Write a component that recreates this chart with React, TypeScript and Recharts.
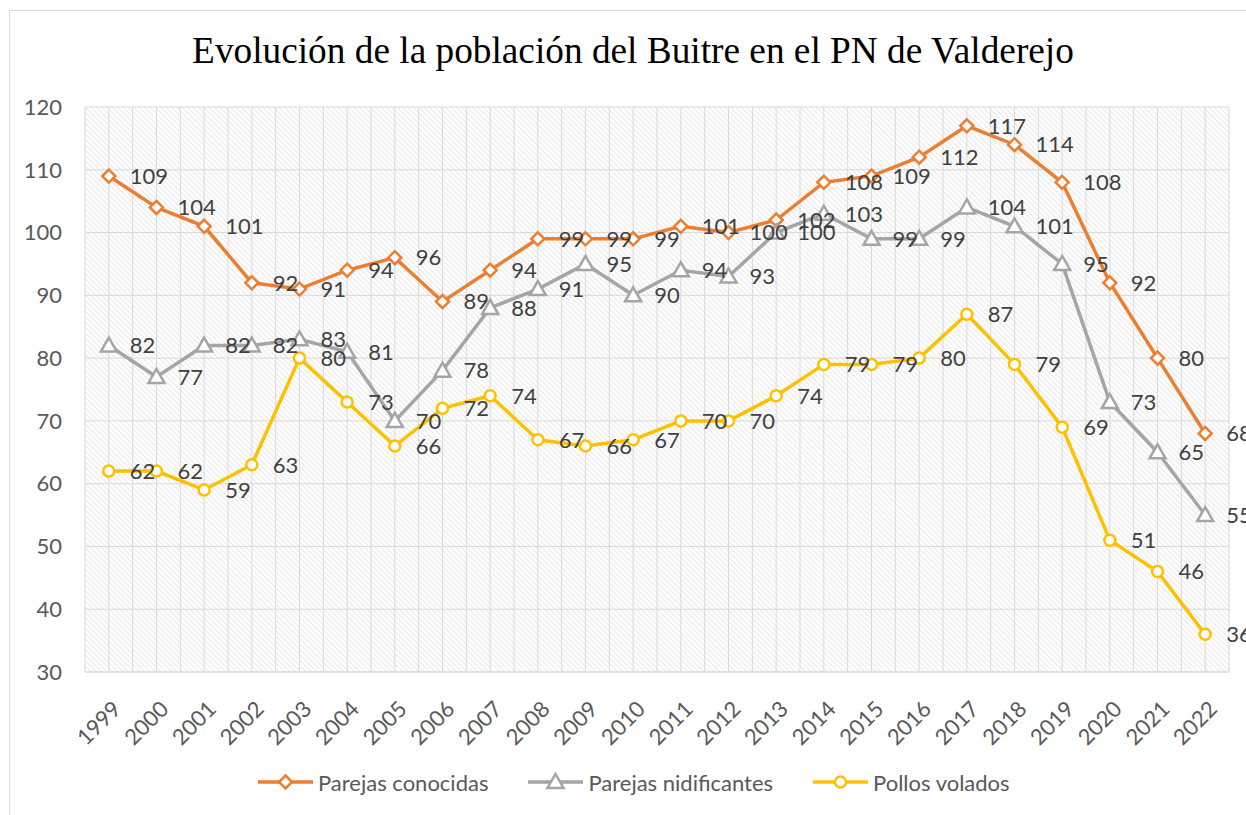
import { CartesianGrid, LabelList, Legend, Line, LineChart, XAxis, YAxis } from 'recharts';

const years = [
  '1999', '2000', '2001', '2002', '2003', '2004', '2005', '2006', '2007', '2008', '2009', '2010',
  '2011', '2012', '2013', '2014', '2015', '2016', '2017', '2018', '2019', '2020', '2021', '2022',
];
const parejasConocidas = [109, 104, 101, 92, 91, 94, 96, 89, 94, 99, 99, 99, 101, 100, 102, 108, 109, 112, 117, 114, 108, 92, 80, 68];
const parejasNidificantes = [82, 77, 82, 82, 83, 81, 70, 78, 88, 91, 95, 90, 94, 93, 100, 103, 99, 99, 104, 101, 95, 73, 65, 55];
const pollosVolados = [62, 62, 59, 63, 80, 73, 66, 72, 74, 67, 66, 67, 70, 70, 74, 79, 79, 80, 87, 79, 69, 51, 46, 36];
const yTicks = [30, 40, 50, 60, 70, 80, 90, 100, 110, 120];

const data = years.map((year, i) => ({
  year,
  conocidas: parejasConocidas[i],
  nidificantes: parejasNidificantes[i],
  pollos: pollosVolados[i],
}));

type Shape = 'diamond' | 'triangle' | 'circle';

const series: { key: string; name: string; color: string; shape: Shape }[] = [
  { key: 'conocidas', name: 'Parejas conocidas', color: '#ED7D31', shape: 'diamond' },
  { key: 'nidificantes', name: 'Parejas nidificantes', color: '#A5A5A5', shape: 'triangle' },
  { key: 'pollos', name: 'Pollos volados', color: '#FFC000', shape: 'circle' },
];

const FONT = 'Lato, "Open Sans", sans-serif';

function Marker({ cx, cy, color, shape }: { cx: number; cy: number; color: string; shape: Shape }) {
  if (shape === 'diamond') {
    const r = 6.5;
    return (
      <polygon
        points={`${cx},${cy - r} ${cx + r},${cy} ${cx},${cy + r} ${cx - r},${cy}`}
        fill="#fff"
        stroke={color}
        strokeWidth={2.5}
      />
    );
  }
  if (shape === 'triangle') {
    return (
      <polygon
        points={`${cx},${cy - 8} ${cx + 8},${cy + 6} ${cx - 8},${cy + 6}`}
        fill="#fff"
        stroke={color}
        strokeWidth={2.5}
      />
    );
  }
  return <circle cx={cx} cy={cy} r={5.5} fill="#fff" stroke={color} strokeWidth={2.5} />;
}

function XTick({ x, y, payload }: any) {
  return (
    <g transform={`translate(${x + 8},${y + 31})`}>
      <text textAnchor="end" dy="0.35em" transform="rotate(-45)" fill="#595959" fontSize={22} fontFamily={FONT}>
        {payload.value}
      </text>
    </g>
  );
}

function LegendContent() {
  return (
    <div style={{ display: 'flex', alignItems: 'center', height: 40, fontFamily: FONT, fontSize: 22, color: '#595959' }}>
      {series.map((s) => (
        <div key={s.key} style={{ display: 'flex', alignItems: 'center', marginRight: 40 }}>
          <svg width={55} height={20} style={{ marginRight: 5 }}>
            <line x1={0} y1={10} x2={55} y2={10} stroke={s.color} strokeWidth={3.5} />
            <Marker cx={27.5} cy={10} color={s.color} shape={s.shape} />
          </svg>
          <span>{s.name}</span>
        </div>
      ))}
    </div>
  );
}

export default function App() {
  return (
    <div
      style={{
        position: 'fixed',
        left: 9,
        top: 10,
        width: 1260,
        height: 810,
        borderTop: '1px solid #d9d9d9',
        borderLeft: '1px solid #d9d9d9',
        background: '#fff',
      }}
    >
      <div
        style={{
          position: 'absolute',
          left: 0,
          top: 21,
          width: 1246,
          textAlign: 'center',
          fontFamily: '"Liberation Serif", "Times New Roman", serif',
          fontSize: 37.3,
          lineHeight: '37px',
          color: '#000',
        }}
      >
        Evolución de la población del Buitre en el PN de Valderejo
      </div>
      <LineChart width={1236} height={800} data={data} margin={{ top: 96, right: 17, left: 15, bottom: 29 }}>
        <defs>
          <pattern id="hatch" patternUnits="userSpaceOnUse" width={3.8} height={3.8} patternTransform="rotate(-45)">
            <line x1={0} y1={0} x2={0} y2={3.8} stroke="#d9d9d9" strokeWidth={1.2} />
          </pattern>
        </defs>
        <CartesianGrid
          fill="url(#hatch)"
          stroke="#d9d9d9"
          strokeWidth={1}
          verticalCoordinatesGenerator={({ offset }: any) =>
            Array.from({ length: years.length * 2 + 1 }, (_, i) => offset.left + (i * offset.width) / (years.length * 2))
          }
        />
        <XAxis
          dataKey="year"
          height={70}
          padding={{ left: 23.8, right: 23.8 }}
          axisLine={{ stroke: '#d9d9d9' }}
          tickLine={false}
          tickSize={0}
          tick={<XTick />}
          interval={0}
        />
        <YAxis
          width={60}
          domain={[30, 120]}
          ticks={yTicks}
          axisLine={false}
          tickLine={false}
          tickSize={0}
          tickMargin={23}
          tick={{ fill: '#595959', fontSize: 22, fontFamily: FONT }}
        />
        <Legend verticalAlign="bottom" content={() => <LegendContent />} wrapperStyle={{ top: 751, left: 248, width: 900, height: 40 }} />
        {series.map((s) => (
          <Line
            key={s.key}
            type="linear"
            dataKey={s.key}
            name={s.name}
            stroke={s.color}
            strokeWidth={3.5}
            isAnimationActive={false}
            dot={(p: any) => <Marker key={`${s.key}-${p.index}`} cx={p.cx} cy={p.cy} color={s.color} shape={s.shape} />}
            activeDot={false}
          >
            <LabelList dataKey={s.key} position="right" offset={21} fill="#404040" fontSize={22} fontFamily={FONT} />
          </Line>
        ))}
      </LineChart>
    </div>
  );
}
